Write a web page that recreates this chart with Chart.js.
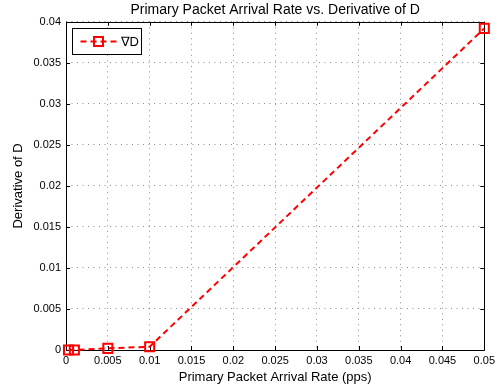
<!DOCTYPE html>
<html>
<head>
<meta charset="utf-8">
<script src="https://cdn.jsdelivr.net/npm/chart.js@4.4.0/dist/chart.umd.min.js"></script>
<style>
html, body { margin: 0; padding: 0; background: #fff; }
</style>
</head>
<body>
<canvas id="chart" width="499" height="392"></canvas>
<script>
var arrivalRate = [0.0003, 0.001, 0.005, 0.01, 0.05];
var derivD = [0, 0, 0.0002, 0.0004, 0.0392];
var seriesName = '\u2207D';

var FONT = "'Liberation Sans', Arial, sans-serif";
var RED = '#ff0000';

function fmt(v) {
    return String(Number(v.toFixed(4)));
}

// axes box with inward ticks on all four sides
var frame = {
    id: 'frame',
    beforeDatasetsDraw: function(chart) {
        var ctx = chart.ctx, a = chart.chartArea;
        var xs = chart.scales.x, ys = chart.scales.y;
        ctx.save();
        ctx.strokeStyle = '#000';
        ctx.lineWidth = 1;
        ctx.beginPath();
        ctx.rect(Math.round(a.left) + 0.5, Math.round(a.top) + 0.5,
                 Math.round(a.right - a.left), Math.round(a.bottom - a.top));
        xs.ticks.forEach(function(t) {
            var px = Math.round(xs.getPixelForValue(t.value)) + 0.5;
            ctx.moveTo(px, a.bottom); ctx.lineTo(px, a.bottom - 4);
            ctx.moveTo(px, a.top); ctx.lineTo(px, a.top + 4);
        });
        ys.ticks.forEach(function(t) {
            var py = Math.round(ys.getPixelForValue(t.value)) + 0.5;
            ctx.moveTo(a.left, py); ctx.lineTo(a.left + 4, py);
            ctx.moveTo(a.right, py); ctx.lineTo(a.right - 4, py);
        });
        ctx.stroke();
        ctx.restore();
    },
    afterDatasetsDraw: function(chart) {
        // legend box in the upper left corner
        var ctx = chart.ctx, a = chart.chartArea;
        var bx = Math.round(a.left) + 6.5, by = Math.round(a.top) + 6.5;
        var bw = 69, bh = 26;
        ctx.save();
        ctx.fillStyle = '#fff';
        ctx.strokeStyle = '#000';
        ctx.lineWidth = 1;
        ctx.fillRect(bx, by, bw, bh);
        ctx.strokeRect(bx, by, bw, bh);
        var cy = by + bh / 2;
        ctx.strokeStyle = RED;
        ctx.lineWidth = 2;
        ctx.setLineDash([6, 4]);
        ctx.beginPath();
        ctx.moveTo(bx + 8, cy); ctx.lineTo(bx + 44, cy);
        ctx.stroke();
        ctx.setLineDash([]);
        ctx.strokeRect(bx + 21.5, cy - 4.5, 9, 9);
        ctx.fillStyle = '#000';
        ctx.font = '13px ' + FONT;
        ctx.textBaseline = 'middle';
        ctx.fillText(seriesName, bx + 48, cy + 1);
        ctx.restore();
    }
};

new Chart(document.getElementById('chart').getContext('2d'), {
    type: 'scatter',
    data: {
        datasets: [{
            label: seriesName,
            data: arrivalRate.map(function(x, i) { return { x: x, y: derivD[i] }; }),
            showLine: true,
            borderColor: RED,
            borderWidth: 2,
            borderDash: [6, 4],
            pointStyle: 'rect',
            pointRadius: 6.4,
            pointBorderWidth: 2,
            pointBorderColor: RED,
            pointBackgroundColor: 'rgba(0,0,0,0)',
            clip: false
        }]
    },
    options: {
        responsive: false,
        animation: false,
        layout: { padding: { left: 0, right: 13, top: 0, bottom: 0 } },
        plugins: {
            legend: { display: false },
            tooltip: { enabled: false },
            title: {
                display: true,
                fullSize: false,
                text: 'Primary Packet Arrival Rate vs. Derivative of D',
                color: '#000',
                font: { family: FONT, size: 14, weight: 'normal' },
                padding: { top: 2, bottom: 3 }
            }
        },
        scales: {
            x: {
                type: 'linear',
                min: 0, max: 0.05,
                afterFit: function(s) { s.height = 42; },
                ticks: {
                    stepSize: 0.005,
                    color: '#000',
                    padding: 4,
                    maxRotation: 0,
                    autoSkip: false,
                    font: { family: FONT, size: 11 },
                    callback: function(v) { return fmt(v); }
                },
                grid: {
                    color: 'rgba(0,0,0,0.45)',
                    borderDash: [1, 4.5],
                    drawTicks: false
                },
                border: { display: false, dash: [1, 4.5] },
                title: {
                    display: true,
                    text: 'Primary Packet Arrival Rate (pps)',
                    color: '#000',
                    font: { family: FONT, size: 13 },
                    padding: { top: 0, bottom: 7 }
                }
            },
            y: {
                type: 'linear',
                min: 0, max: 0.04,
                afterFit: function(s) { s.width = 66; },
                ticks: {
                    stepSize: 0.005,
                    color: '#000',
                    padding: 5,
                    autoSkip: false,
                    font: { family: FONT, size: 11 },
                    callback: function(v) { return fmt(v); }
                },
                grid: {
                    color: 'rgba(0,0,0,0.45)',
                    borderDash: [1, 4.5],
                    drawTicks: false
                },
                border: { display: false, dash: [1, 4.5] },
                title: {
                    display: true,
                    text: 'Derivative of D',
                    color: '#000',
                    font: { family: FONT, size: 13 },
                    padding: { top: 11, bottom: 0 }
                }
            }
        }
    },
    plugins: [frame]
});
</script>
</body>
</html>
